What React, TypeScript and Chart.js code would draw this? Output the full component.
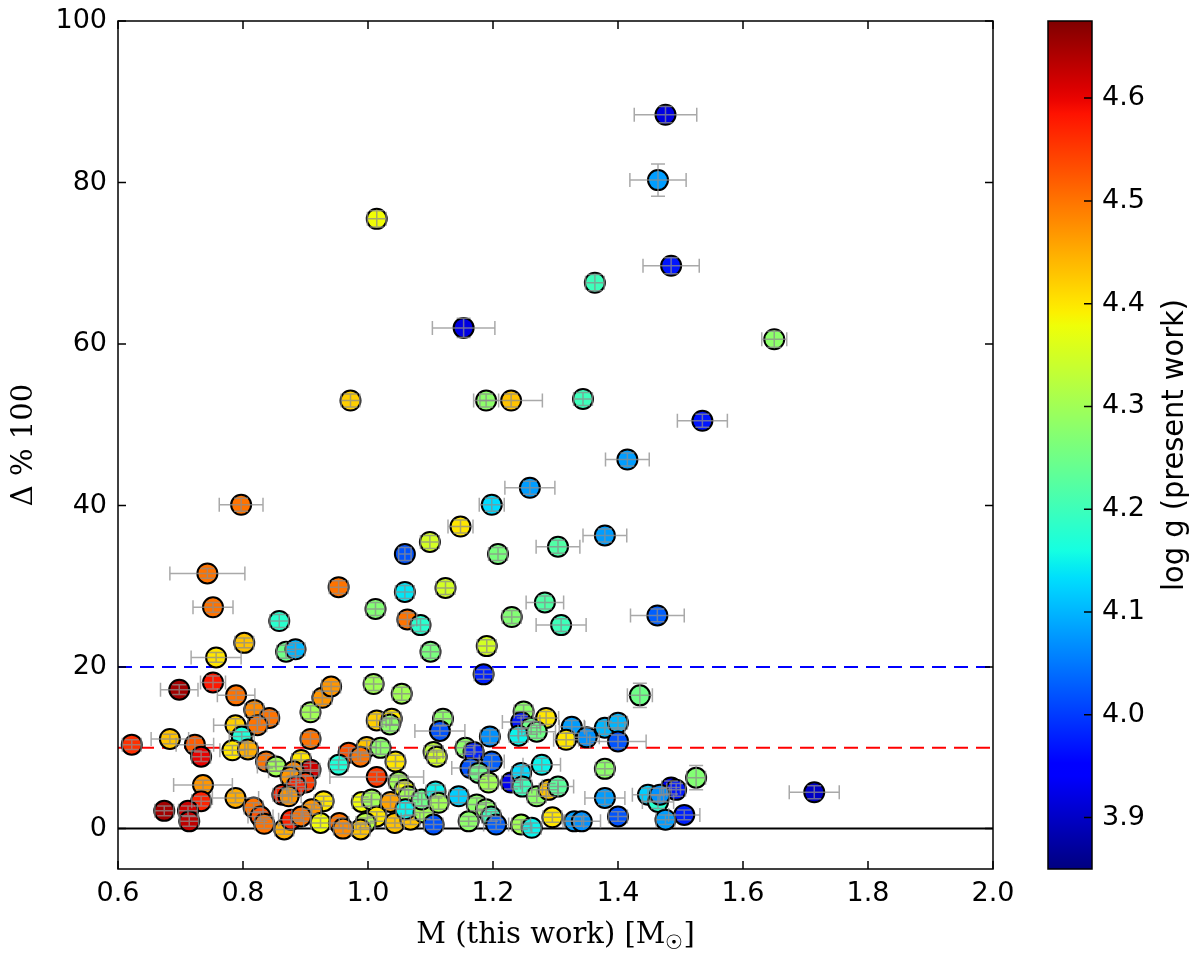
import { Chart, registerables } from 'chart.js';
import { useEffect, useRef, type FC } from 'react';

Chart.register(...registerables);

// stellar mass from this work (M_sun)
const mass = [
  1.476, 1.464, 1.485, 1.363, 1.014, 1.153, 1.65, 0.972, 1.189, 1.229,
  1.344, 1.535, 1.415, 1.259, 0.797, 1.198, 1.379, 1.148, 1.099, 1.059,
  1.208, 1.304, 0.743, 0.953, 1.124, 1.059, 0.752, 1.012, 1.283, 1.23,
  1.309, 1.463, 0.858, 1.063, 1.084, 0.802, 0.757, 0.869, 0.884, 1.1,
  1.19, 1.185, 0.698, 0.752, 0.789, 0.818, 0.842, 0.823, 0.788, 0.798,
  0.908, 0.927, 0.908, 0.622, 0.683, 0.723, 0.733, 0.783, 0.808, 0.837,
  0.853, 0.893, 0.908, 0.881, 0.876, 0.9, 0.885, 0.736, 0.788, 0.733,
  0.863, 0.873, 0.929, 0.91, 0.674, 0.712, 0.714, 0.817, 0.828, 0.834,
  0.866, 0.877, 0.924, 0.893, 0.941, 1.009, 1.054, 1.014, 1.038, 1.035,
  1.12, 1.115, 1.195, 1.249, 1.245, 1.261, 1.241, 0.969, 0.998, 1.02,
  0.988, 0.953, 1.044, 1.014, 1.105, 1.11, 1.156, 1.169, 1.198, 1.164,
  1.177, 1.193, 1.229, 1.245, 1.247, 1.27, 1.049, 1.059, 1.065, 0.99,
  1.006, 1.036, 1.014, 0.996, 0.988, 0.954, 0.96, 1.043, 1.068, 1.06,
  1.089, 1.086, 1.108, 1.113, 1.145, 1.174, 1.189, 1.197, 1.105, 1.161,
  1.205, 1.245, 1.262, 1.435, 1.285, 1.326, 1.35, 1.317, 1.379, 1.4,
  1.4, 1.27, 1.278, 1.379, 1.289, 1.304, 1.379, 1.295, 1.33, 1.342,
  1.4, 1.448, 1.464, 1.485, 1.493, 1.467, 1.525, 1.506, 1.476, 1.714,
];

// relative difference (%)
const delta = [
  88.4, 80.3, 69.7, 67.6, 75.5, 62.0, 60.6, 53.0, 53.0, 53.0,
  53.2, 50.5, 45.7, 42.2, 40.1, 40.1, 36.3, 37.4, 35.5, 34.0,
  34.0, 34.9, 31.6, 29.9, 29.8, 29.3, 27.4, 27.2, 28.0, 26.2,
  25.2, 26.4, 25.7, 25.9, 25.2, 23.0, 21.2, 21.9, 22.2, 21.9,
  22.6, 19.1, 17.2, 18.1, 16.5, 14.7, 13.7, 12.8, 12.8, 11.4,
  14.4, 16.2, 11.1, 10.4, 11.1, 10.4, 8.9, 9.7, 9.8, 8.3,
  7.7, 8.5, 7.3, 7.1, 6.4, 5.7, 5.2, 5.4, 3.8, 3.4,
  4.2, 4.0, 3.4, 2.4, 2.2, 2.2, 0.9, 2.6, 1.5, 0.6,
  -0.1, 1.1, 0.7, 1.5, 17.6, 17.9, 16.7, 13.4, 13.6, 12.9,
  13.6, 12.1, 11.4, 14.5, 13.2, 12.5, 11.5, 9.4, 10.1, 10.0,
  8.9, 7.9, 8.3, 6.4, 9.5, 8.9, 10.0, 9.5, 8.3, 7.5,
  6.9, 5.7, 5.7, 6.9, 5.2, 4.0, 5.8, 4.8, 4.0, 3.3,
  3.6, 3.3, 1.5, 0.7, -0.1, 0.7, 0.0, 0.7, 1.1, 2.4,
  2.0, 3.6, 4.6, 3.2, 4.0, 3.0, 2.4, 1.5, 0.5, 0.9,
  0.5, 0.5, 0.1, 16.5, 13.7, 12.6, 11.3, 11.0, 12.5, 13.1,
  10.8, 12.0, 7.9, 7.4, 4.8, 5.2, 3.8, 1.4, 0.9, 0.9,
  1.5, 4.2, 3.3, 5.1, 4.8, 4.2, 6.3, 1.7, 1.1, 4.5,
];

// surface gravity (present work), used for colour
const logg = [
  3.92, 4.08, 3.97, 4.2, 4.38, 3.92, 4.28, 4.42, 4.28, 4.43,
  4.2, 3.97, 4.08, 4.08, 4.5, 4.13, 4.08, 4.4, 4.35, 4.02,
  4.26, 4.22, 4.5, 4.5, 4.35, 4.14, 4.5, 4.27, 4.22, 4.27,
  4.2, 4.03, 4.18, 4.5, 4.18, 4.43, 4.4, 4.25, 4.1, 4.26,
  4.35, 3.98, 4.65, 4.58, 4.5, 4.48, 4.5, 4.5, 4.42, 4.17,
  4.3, 4.47, 4.5, 4.56, 4.43, 4.52, 4.6, 4.4, 4.45, 4.5,
  4.3, 4.4, 4.62, 4.48, 4.47, 4.55, 4.57, 4.47, 4.45, 4.57,
  4.57, 4.47, 4.4, 4.47, 4.65, 4.62, 4.63, 4.5, 4.53, 4.5,
  4.45, 4.57, 4.38, 4.5, 4.47, 4.3, 4.3, 4.42, 4.4, 4.28,
  4.28, 4.02, 4.07, 4.28, 3.97, 4.25, 4.15, 4.53, 4.43, 4.28,
  4.5, 4.17, 4.4, 4.55, 4.33, 4.35, 4.28, 3.98, 4.03, 4.02,
  4.25, 4.3, 3.93, 4.13, 4.2, 4.28, 4.3, 4.38, 4.3, 4.38,
  4.3, 4.46, 4.4, 4.32, 4.43, 4.5, 4.48, 4.43, 4.43, 4.15,
  4.3, 4.25, 4.15, 4.3, 4.12, 4.28, 4.28, 4.2, 4.02, 4.28,
  4.03, 4.3, 4.15, 4.25, 4.4, 4.08, 4.07, 4.4, 4.1, 4.1,
  4.02, 4.25, 4.15, 4.28, 4.43, 4.23, 4.08, 4.4, 4.08, 4.07,
  4.02, 4.12, 4.18, 3.93, 3.97, 4.07, 4.27, 3.98, 4.08, 3.9,
];

const massErr = [
  0.05, 0.045, 0.045, 0.015, 0.015, 0.05, 0.02, 0.015, 0.02, 0.05,
  0.015, 0.04, 0.035, 0.04, 0.035, 0.02, 0.035, 0.02, 0.015, 0.01,
  0.015, 0.035, 0.06, 0.015, 0.015, 0.015, 0.032, 0.015, 0.03, 0.015,
  0.04, 0.043, 0.015, 0.015, 0.015, 0.015, 0.04, 0.015, 0.015, 0.015,
  0.015, 0.015, 0.03, 0.02, 0.03, 0.015, 0.015, 0.015, 0.035, 0.02,
  0.015, 0.015, 0.015, 0.015, 0.03, 0.03, 0.015, 0.02, 0.015, 0.015,
  0.03, 0.015, 0.015, 0.04, 0.015, 0.015, 0.015, 0.047, 0.037, 0.015,
  0.015, 0.02, 0.015, 0.015, 0.015, 0.015, 0.015, 0.015, 0.02, 0.015,
  0.015, 0.02, 0.015, 0.015, 0.015, 0.015, 0.015, 0.015, 0.015, 0.015,
  0.015, 0.04, 0.015, 0.015, 0.03, 0.015, 0.015, 0.015, 0.015, 0.015,
  0.015, 0.015, 0.015, 0.075, 0.015, 0.015, 0.015, 0.015, 0.02, 0.03,
  0.015, 0.015, 0.015, 0.015, 0.015, 0.015, 0.015, 0.015, 0.015, 0.015,
  0.015, 0.015, 0.015, 0.015, 0.015, 0.015, 0.015, 0.015, 0.015, 0.015,
  0.015, 0.015, 0.015, 0.015, 0.015, 0.015, 0.015, 0.015, 0.015, 0.015,
  0.02, 0.015, 0.015, 0.02, 0.02, 0.02, 0.02, 0.02, 0.032, 0.015,
  0.045, 0.03, 0.03, 0.015, 0.015, 0.025, 0.032, 0.015, 0.015, 0.03,
  0.015, 0.025, 0.025, 0.015, 0.015, 0.015, 0.015, 0.025, 0.015, 0.04,
];

const deltaErr = [
  1.0, 2.0, 1.0, 1.0, 1.0, 1.2, 1.0, 0.8, 0.8, 0.8,
  0.8, 0.8, 0.8, 0.8, 0.8, 0.8, 0.8, 0.8, 0.8, 0.8,
  0.8, 0.8, 0.6, 0.8, 0.8, 0.8, 0.6, 0.8, 0.8, 0.8,
  0.8, 0.8, 0.8, 0.8, 0.8, 0.6, 0.6, 0.8, 0.8, 0.8,
  0.8, 0.6, 0.6, 0.8, 0.6, 0.8, 0.8, 0.8, 0.8, 0.6,
  0.8, 0.8, 0.8, 0.6, 0.6, 0.8, 0.6, 0.6, 0.8, 0.8,
  0.6, 0.8, 0.8, 0.6, 0.8, 0.8, 0.8, 0.6, 0.6, 0.6,
  0.8, 0.8, 0.6, 0.6, 0.6, 0.6, 0.6, 0.6, 0.6, 0.6,
  0.6, 0.6, 0.6, 0.6, 0.6, 0.8, 0.8, 0.8, 0.8, 0.8,
  0.8, 0.6, 0.8, 0.8, 0.8, 0.8, 0.8, 0.6, 0.8, 0.8,
  0.6, 0.6, 0.8, 0.6, 0.8, 0.8, 0.8, 0.8, 0.8, 0.8,
  0.8, 0.8, 0.8, 0.8, 0.8, 0.8, 0.8, 0.8, 0.8, 0.6,
  0.8, 0.8, 0.6, 0.6, 0.6, 0.6, 0.6, 0.6, 0.6, 0.8,
  0.8, 0.8, 0.8, 0.8, 0.8, 0.8, 0.8, 0.6, 0.6, 0.6,
  0.6, 0.6, 0.6, 1.5, 0.8, 0.8, 0.8, 0.8, 0.8, 0.8,
  0.8, 0.8, 0.8, 0.8, 0.8, 0.8, 0.8, 0.6, 0.6, 0.6,
  0.6, 0.8, 0.8, 0.8, 0.8, 0.8, 1.5, 0.6, 0.6, 0.8,
];

const xTicks = [0.6, 0.8, 1.0, 1.2, 1.4, 1.6, 1.8, 2.0];
const yTicks = [0, 20, 40, 60, 80, 100];
const cbTicks = [3.9, 4.0, 4.1, 4.2, 4.3, 4.4, 4.5, 4.6];
const cbMin = 3.85;
const cbMax = 4.675;

// horizontal reference levels
const levels = [0, 10, 20];
const levelColors = ['#000000', '#ff0000', '#0000ff'];
const levelDash = [[], [14, 8], [14, 8]];

const TICK_FONT = '27px "DejaVu Sans", sans-serif';
const SERIF = '"DejaVu Serif", serif';

// matplotlib "jet" segment data
const jetR = [[0, 0], [0.35, 0], [0.66, 1], [0.89, 1], [1, 0.5]];
const jetG = [[0, 0], [0.125, 0], [0.375, 1], [0.64, 1], [0.91, 0], [1, 0]];
const jetB = [[0, 0.5], [0.11, 1], [0.34, 1], [0.65, 0], [1, 0]];

function seg(points: number[][], t: number) {
  for (let i = 1; i < points.length; i++) {
    if (t <= points[i][0]) {
      const [x0, y0] = points[i - 1];
      const [x1, y1] = points[i];
      return y0 + ((t - x0) / (x1 - x0)) * (y1 - y0);
    }
  }
  return points[points.length - 1][1];
}

function jet(t: number) {
  const c = Math.max(0, Math.min(1, t));
  const r = Math.round(seg(jetR, c) * 255);
  const g = Math.round(seg(jetG, c) * 255);
  const b = Math.round(seg(jetB, c) * 255);
  return `rgb(${r},${g},${b})`;
}

const colorFor = (g: number) => jet((g - cbMin) / (cbMax - cbMin));

const decorations = {
  id: 'decorations',
  afterDatasetsDraw(chart: Chart) {
    const { ctx } = chart;
    const xs = chart.scales.x;
    const ys = chart.scales.y;
    ctx.save();
    ctx.strokeStyle = 'rgba(140,140,140,0.75)';
    ctx.lineWidth = 1.5;
    const cap = 7;
    mass.forEach((m, i) => {
      const x0 = xs.getPixelForValue(m - massErr[i]);
      const x1 = xs.getPixelForValue(m + massErr[i]);
      const xc = xs.getPixelForValue(m);
      const y = ys.getPixelForValue(delta[i]);
      const y0 = ys.getPixelForValue(delta[i] - deltaErr[i]);
      const y1 = ys.getPixelForValue(delta[i] + deltaErr[i]);
      ctx.beginPath();
      ctx.moveTo(x0, y);
      ctx.lineTo(x1, y);
      ctx.moveTo(x0, y - cap);
      ctx.lineTo(x0, y + cap);
      ctx.moveTo(x1, y - cap);
      ctx.lineTo(x1, y + cap);
      ctx.moveTo(xc, y0);
      ctx.lineTo(xc, y1);
      ctx.moveTo(xc - cap, y0);
      ctx.lineTo(xc + cap, y0);
      ctx.moveTo(xc - cap, y1);
      ctx.lineTo(xc + cap, y1);
      ctx.stroke();
    });
    ctx.restore();
  },
  afterDraw(chart: Chart) {
    const { ctx, chartArea: a } = chart;
    const xs = chart.scales.x;
    const ys = chart.scales.y;
    ctx.save();

    // frame and inward ticks
    ctx.strokeStyle = '#000';
    ctx.lineWidth = 1.5;
    ctx.strokeRect(a.left, a.top, a.right - a.left, a.bottom - a.top);
    ctx.beginPath();
    xTicks.forEach((v) => {
      const x = xs.getPixelForValue(v);
      ctx.moveTo(x, a.bottom);
      ctx.lineTo(x, a.bottom - 8);
      ctx.moveTo(x, a.top);
      ctx.lineTo(x, a.top + 8);
    });
    yTicks.forEach((v) => {
      const y = ys.getPixelForValue(v);
      ctx.moveTo(a.left, y);
      ctx.lineTo(a.left + 8, y);
      ctx.moveTo(a.right, y);
      ctx.lineTo(a.right - 8, y);
    });
    ctx.stroke();

    // x axis title with sun subscript
    ctx.fillStyle = '#000';
    ctx.textBaseline = 'alphabetic';
    ctx.textAlign = 'left';
    const main = 'M (this work) [M';
    const sub = '\u2609';
    ctx.font = `29px ${SERIF}`;
    const wMain = ctx.measureText(main).width;
    const wClose = ctx.measureText(']').width;
    ctx.font = `20px ${SERIF}`;
    const wSub = ctx.measureText(sub).width;
    const total = wMain + wSub + wClose;
    let tx = (a.left + a.right) / 2 - total / 2;
    const ty = 943;
    ctx.font = `29px ${SERIF}`;
    ctx.fillText(main, tx, ty);
    tx += wMain;
    ctx.font = `20px ${SERIF}`;
    ctx.fillText(sub, tx, ty + 6);
    tx += wSub;
    ctx.font = `29px ${SERIF}`;
    ctx.fillText(']', tx, ty);

    // colour bar
    const cbLeft = 1048;
    const cbRight = 1092;
    const top = a.top;
    const bottom = a.bottom;
    const grad = ctx.createLinearGradient(0, bottom, 0, top);
    for (let k = 0; k <= 64; k++) grad.addColorStop(k / 64, jet(k / 64));
    ctx.fillStyle = grad;
    ctx.fillRect(cbLeft, top, cbRight - cbLeft, bottom - top);
    ctx.strokeStyle = '#000';
    ctx.lineWidth = 1.5;
    ctx.strokeRect(cbLeft, top, cbRight - cbLeft, bottom - top);
    const gy = (g: number) => bottom - ((g - cbMin) / (cbMax - cbMin)) * (bottom - top);
    ctx.beginPath();
    cbTicks.forEach((g) => {
      ctx.moveTo(cbRight, gy(g));
      ctx.lineTo(cbRight - 8, gy(g));
    });
    ctx.stroke();
    ctx.fillStyle = '#000';
    ctx.font = TICK_FONT;
    ctx.textAlign = 'left';
    ctx.textBaseline = 'middle';
    cbTicks.forEach((g) => ctx.fillText(g.toFixed(1), 1102, gy(g)));

    // colour bar label
    ctx.save();
    ctx.translate(1175, (top + bottom) / 2);
    ctx.rotate(-Math.PI / 2);
    ctx.font = '30px "DejaVu Sans Condensed", "Liberation Sans Narrow", "DejaVu Sans", sans-serif';
    const label = 'log g (present work)';
    const lw = ctx.measureText(label).width;
    ctx.scale(292 / lw, 1);
    ctx.textAlign = 'center';
    ctx.textBaseline = 'middle';
    ctx.fillText(label, 0, 0);
    ctx.restore();

    ctx.restore();
  },
};

const App: FC = () => {
  const canvasRef = useRef<HTMLCanvasElement>(null);
  const chartRef = useRef<Chart | null>(null);

  useEffect(() => {
    if (!canvasRef.current) {
      return;
    }
    const context = canvasRef.current.getContext('2d');
    if (!context) {
      return;
    }

    const levelSets = levels.map((lv, i) => ({
      type: 'line' as const,
      data: [
        { x: xTicks[0], y: lv },
        { x: xTicks[xTicks.length - 1], y: lv },
      ],
      borderColor: levelColors[i],
      borderDash: levelDash[i],
      borderWidth: 2,
      pointRadius: 0,
      order: 2,
    }));

    chartRef.current = new Chart(context, {
      type: 'scatter',
      data: {
        datasets: [
          {
            data: mass.map((m, i) => ({ x: m, y: delta[i] })),
            backgroundColor: logg.map(colorFor),
            borderColor: '#000',
            borderWidth: 2,
            pointRadius: 10,
            order: 1,
          },
          ...levelSets,
        ],
      } as any,
      options: {
        responsive: false,
        animation: false,
        layout: { padding: { top: 21, right: 207, left: 0, bottom: 0 } },
        plugins: {
          legend: { display: false },
          tooltip: { enabled: false },
        },
        scales: {
          x: {
            type: 'linear',
            min: 0.6,
            max: 2.0,
            afterBuildTicks: (s) => {
              s.ticks = xTicks.map((v) => ({ value: v }));
            },
            afterFit: (s: any) => {
              s.height = 89;
              s.paddingLeft = 0;
              s.paddingRight = 0;
            },
            ticks: {
              callback: (v) => Number(v).toFixed(1),
              font: { family: '"DejaVu Sans", sans-serif', size: 27 },
              color: '#000',
              padding: 9,
              maxRotation: 0,
            },
            grid: { display: false, drawTicks: false },
            border: { display: false },
          },
          y: {
            type: 'linear',
            min: -5,
            max: 100,
            afterBuildTicks: (s) => {
              s.ticks = yTicks.map((v) => ({ value: v }));
            },
            afterFit: (s: any) => {
              s.width = 118;
              s.paddingTop = 0;
              s.paddingBottom = 0;
            },
            ticks: {
              callback: (v) => String(v),
              font: { family: '"DejaVu Sans", sans-serif', size: 27 },
              color: '#000',
              padding: 11,
            },
            grid: { display: false, drawTicks: false },
            border: { display: false },
            title: {
              display: true,
              text: '\u0394 % 100',
              color: '#000',
              font: { family: '"DejaVu Serif", serif', size: 29 },
              padding: { top: 7, bottom: 0 },
            },
          },
        },
      },
      plugins: [decorations],
    });

    return () => {
      chartRef.current?.destroy();
    };
  }, []);

  return (
    <div style={{ position: 'absolute', left: 0, top: 0, width: 1200, height: 958, background: '#fff' }}>
      <canvas ref={canvasRef} width={1200} height={958} />
    </div>
  );
};

export default App;
